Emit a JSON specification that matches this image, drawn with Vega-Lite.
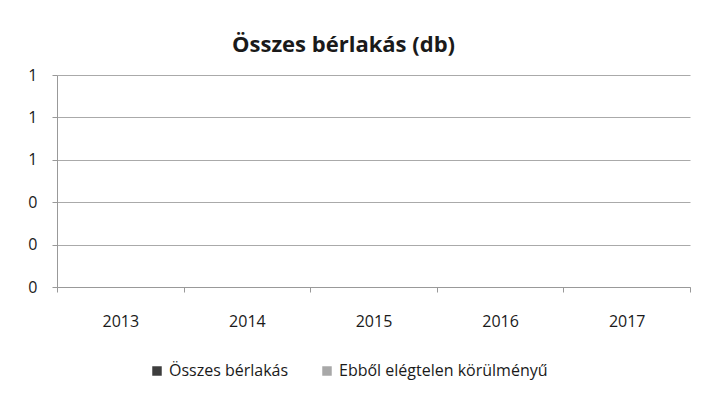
{
  "$schema": "https://vega.github.io/schema/vega-lite/v6.json",
  "autosize": {"type": "none"},
  "padding": {"left": 57, "top": 75, "right": 17, "bottom": 115},
  "width": 633,
  "height": 212,
  "background": "white",
  "title": {
    "text": "Összes bérlakás (db)",
    "font": "Open Sans",
    "fontSize": 22,
    "fontWeight": "bold",
    "color": "#1a1a1a",
    "anchor": "middle",
    "dx": -30,
    "offset": 10
  },
  "data": {
    "values": [
      {"ev": "2013", "sorozat": "Összes bérlakás", "db": 0},
      {"ev": "2013", "sorozat": "Ebből elégtelen körülményű", "db": 0},
      {"ev": "2014", "sorozat": "Összes bérlakás", "db": 0},
      {"ev": "2014", "sorozat": "Ebből elégtelen körülményű", "db": 0},
      {"ev": "2015", "sorozat": "Összes bérlakás", "db": 0},
      {"ev": "2015", "sorozat": "Ebből elégtelen körülményű", "db": 0},
      {"ev": "2016", "sorozat": "Összes bérlakás", "db": 0},
      {"ev": "2016", "sorozat": "Ebből elégtelen körülményű", "db": 0},
      {"ev": "2017", "sorozat": "Összes bérlakás", "db": 0},
      {"ev": "2017", "sorozat": "Ebből elégtelen körülményű", "db": 0}
    ]
  },
  "mark": {"type": "bar"},
  "encoding": {
    "x": {
      "field": "ev",
      "type": "nominal",
      "title": null,
      "scale": {"paddingInner": 0, "paddingOuter": 0},
      "axis": {
        "labelAngle": 0,
        "labelFont": "Open Sans",
        "labelFontSize": 16,
        "labelColor": "#1a1a1a",
        "labelPadding": 21,
        "tickBand": "extent",
        "tickSize": 5,
        "tickColor": "#999",
        "domainColor": "#999",
        "grid": false
      }
    },
    "xOffset": {"field": "sorozat", "sort": ["Összes bérlakás", "Ebből elégtelen körülményű"]},
    "y": {
      "field": "db",
      "type": "quantitative",
      "title": null,
      "scale": {"domain": [0, 1]},
      "axis": {
        "tickCount": 5,
        "format": ".0f",
        "labelFont": "Open Sans",
        "labelFontSize": 16,
        "labelColor": "#1a1a1a",
        "labelPadding": 15,
        "tickSize": 5,
        "tickColor": "#999",
        "domainColor": "#999",
        "gridColor": "#aaa",
        "gridWidth": 1
      }
    },
    "color": {
      "field": "sorozat",
      "type": "nominal",
      "sort": ["Összes bérlakás", "Ebből elégtelen körülményű"],
      "scale": {"range": ["#3d3d3d", "#a8a8a8"]},
      "legend": {
        "title": null,
        "orient": "none",
        "legendX": 92,
        "legendY": 288,
        "direction": "horizontal",
        "symbolType": "square",
        "symbolSize": 90,
        "labelFont": "Open Sans",
        "labelFontSize": 16,
        "labelColor": "#1a1a1a",
        "labelLimit": 0,
        "columnPadding": 30
      }
    }
  },
  "config": {"view": {"stroke": null}}
}
